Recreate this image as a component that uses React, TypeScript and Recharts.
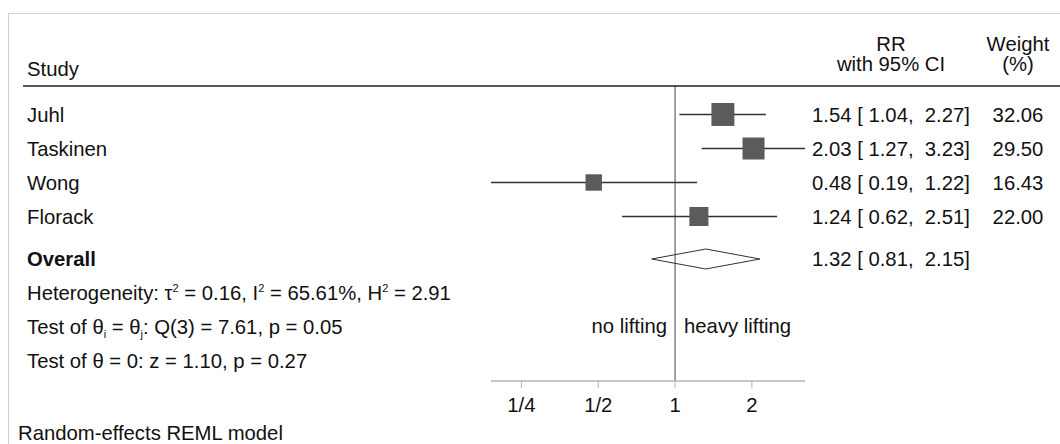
import React from 'react';
import { ComposedChart, XAxis, YAxis, Scatter, ReferenceLine } from 'recharts';

// study level results (risk ratios, 95% CI, random-effects weights)
const studies = ['Juhl', 'Taskinen', 'Wong', 'Florack'];
const rr = [1.54, 2.03, 0.48, 1.24];
const ciLow = [1.04, 1.27, 0.19, 0.62];
const ciHigh = [2.27, 3.23, 1.22, 2.51];
const weights = [32.06, 29.5, 16.43, 22.0];

const overallRR = 1.32;
const overallLow = 0.81;
const overallHigh = 2.15;

// heterogeneity / test statistics
const tau2 = 0.16;
const i2 = 65.61;
const h2 = 2.91;
const qDf = 3;
const qStat = 7.61;
const qP = 0.05;
const zStat = 1.1;
const zP = 0.27;

const xTicks = [0.25, 0.5, 1, 2];
const xTickLabels = ['1/4', '1/2', '1', '2'];

// row positions on the y axis (one unit = one table row)
const studyRows = [1, 2, 3, 4];
const overallRow = 5.25;
const statRows = [6.25, 7.25, 8.25];
const sideLabelRow = 7.2;
const Y_DOMAIN: [number, number] = [0.162, 8.838];
const DIAMOND_HALF = 0.294;
const SQUARE_SCALE = 4.05;

const FONT = '"Liberation Sans", Arial, Helvetica, sans-serif';
const FS = 20.3;
const CI_X = 891;
const W_X = 1018;

const fmtCI = (est: number, lo: number, hi: number) =>
    `${est.toFixed(2)} [${lo.toFixed(2).padStart(5, ' ')}, ${hi.toFixed(2).padStart(5, ' ')}]`;

const near = (a: number, b: number) => Math.abs(a - b) < 1e-6;

// builds a text line out of [text, shift] pieces; shift < 0 = superscript, > 0 = subscript
const Pieces = ({ parts }: { parts: [string, number][] }) => {
    let prev = 0;
    return (
        <>
            {parts.map(([t, shift], k) => {
                const dy = shift - prev;
                prev = shift;
                return (
                    <tspan key={k} dy={dy || undefined} fontSize={shift ? 11 : undefined}>{t}</tspan>
                );
            })}
        </>
    );
};

const RowTick = (props: any) => {
    const { y, payload } = props;
    const v = payload.value;
    const common = { y, dy: '0.355em', fontSize: FS, fontFamily: FONT, fill: '#111' };
    const pre = { whiteSpace: 'pre' as const };
    const i = studyRows.findIndex(r => near(r, v));
    if (i >= 0) {
        return (
            <g>
                <text x={27} {...common}>{studies[i]}</text>
                <text x={CI_X} textAnchor="middle" style={pre} {...common}>{fmtCI(rr[i], ciLow[i], ciHigh[i])}</text>
                <text x={W_X} textAnchor="middle" {...common}>{weights[i].toFixed(2)}</text>
            </g>
        );
    }
    if (near(v, overallRow)) {
        return (
            <g>
                <text x={27} fontWeight="bold" {...common}>Overall</text>
                <text x={CI_X} textAnchor="middle" style={pre} {...common}>{fmtCI(overallRR, overallLow, overallHigh)}</text>
            </g>
        );
    }
    if (near(v, statRows[0])) {
        return (
            <text x={27} style={pre} {...common}>
                <Pieces parts={[
                    ['Heterogeneity: τ', 0], ['2', -8],
                    [` = ${tau2.toFixed(2)}, I`, 0], ['2', -8],
                    [` = ${i2.toFixed(2)}%, H`, 0], ['2', -8],
                    [` = ${h2.toFixed(2)}`, 0],
                ]} />
            </text>
        );
    }
    if (near(v, statRows[1])) {
        return (
            <text x={27} style={pre} {...common}>
                <Pieces parts={[
                    ['Test of θ', 0], ['i', 4],
                    [' = θ', 0], ['j', 4],
                    [`: Q(${qDf}) = ${qStat.toFixed(2)}, p = ${qP.toFixed(2)}`, 0],
                ]} />
            </text>
        );
    }
    if (near(v, statRows[2])) {
        return (
            <text x={27} {...common}>
                {`Test of θ = 0: z = ${zStat.toFixed(2)}, p = ${zP.toFixed(2)}`}
            </text>
        );
    }
    return null;
};

const App: React.FC = () => {
    const squares = studies.map((s, i) => ({ rr: rr[i], row: studyRows[i], weight: weights[i] }));
    const diamond = [
        { rr: overallLow, row: overallRow },
        { rr: overallRR, row: overallRow - DIAMOND_HALF },
        { rr: overallHigh, row: overallRow },
        { rr: overallRR, row: overallRow + DIAMOND_HALF },
        { rr: overallLow, row: overallRow },
    ];
    const xDomain = [Math.min(...ciLow), Math.max(...ciHigh)];

    return (
        <div style={{ position: 'relative', width: 1060, height: 444, overflow: 'hidden', background: '#fff' }}>
            <style>{'body{margin:0;overflow:hidden}'}</style>
            <ComposedChart width={1060} height={444} margin={{ top: 86, right: 255, bottom: 0, left: 0 }}>
                <XAxis
                    dataKey="rr"
                    type="number"
                    scale="log"
                    domain={xDomain}
                    allowDataOverflow
                    ticks={xTicks}
                    interval={0}
                    tickFormatter={(v: number) => xTickLabels[xTicks.indexOf(v)]}
                    height={63}
                    axisLine={{ stroke: '#b4b4b4', strokeWidth: 1.5 }}
                    tickLine={{ stroke: '#b4b4b4' }}
                    tickSize={7}
                    tickMargin={10}
                    tick={{ fill: '#111', fontSize: FS, fontFamily: FONT }}
                />
                <YAxis
                    dataKey="row"
                    type="number"
                    domain={Y_DOMAIN}
                    reversed
                    allowDataOverflow
                    ticks={[...studyRows, overallRow, ...statRows]}
                    interval={0}
                    width={491}
                    axisLine={false}
                    tickLine={false}
                    tick={RowTick}
                />
                <ReferenceLine x={1} stroke="#444" strokeWidth={1} />
                {studies.map((s, i) => (
                    <Scatter
                        key={s}
                        data={[{ rr: ciLow[i], row: studyRows[i] }, { rr: ciHigh[i], row: studyRows[i] }]}
                        line={{ stroke: '#333', strokeWidth: 1.3 }}
                        shape={() => <g />}
                        isAnimationActive={false}
                    />
                ))}
                <Scatter
                    data={squares}
                    isAnimationActive={false}
                    shape={(p: any) => {
                        const side = SQUARE_SCALE * Math.sqrt(p.payload.weight);
                        return <rect x={p.cx - side / 2} y={p.cy - side / 2} width={side} height={side} fill="#5b5b5b" />;
                    }}
                />
                <Scatter
                    data={diamond}
                    line={{ stroke: '#333', strokeWidth: 1 }}
                    shape={() => <g />}
                    isAnimationActive={false}
                />
                <Scatter
                    data={[{ rr: 1, row: sideLabelRow }]}
                    isAnimationActive={false}
                    shape={(p: any) => (
                        <g fontSize={FS} fontFamily={FONT} fill="#111">
                            <text x={p.cx - 8} y={p.cy} dy="0.355em" textAnchor="end">no lifting</text>
                            <text x={p.cx + 9} y={p.cy} dy="0.355em" textAnchor="start">heavy lifting</text>
                        </g>
                    )}
                />
            </ComposedChart>
            <svg width={1060} height={444} style={{ position: 'absolute', left: 0, top: 0, pointerEvents: 'none' }}>
                <line x1={8.5} y1={13} x2={8.5} y2={444} stroke="#cfcfcf" />
                <line x1={8} y1={13.5} x2={1060} y2={13.5} stroke="#cfcfcf" />
                <line x1={23} y1={86} x2={1060} y2={86} stroke="#222" strokeWidth={1.5} />
                <g fontSize={FS} fontFamily={FONT} fill="#111">
                    <text x={27} y={76}>Study</text>
                    <text x={CI_X} y={51} textAnchor="middle">RR</text>
                    <text x={CI_X} y={71} textAnchor="middle">with 95% CI</text>
                    <text x={W_X} y={51} textAnchor="middle">Weight</text>
                    <text x={W_X} y={71} textAnchor="middle">(%)</text>
                    <text x={18} y={440}>Random-effects REML model</text>
                </g>
            </svg>
        </div>
    );
};

export default App;
